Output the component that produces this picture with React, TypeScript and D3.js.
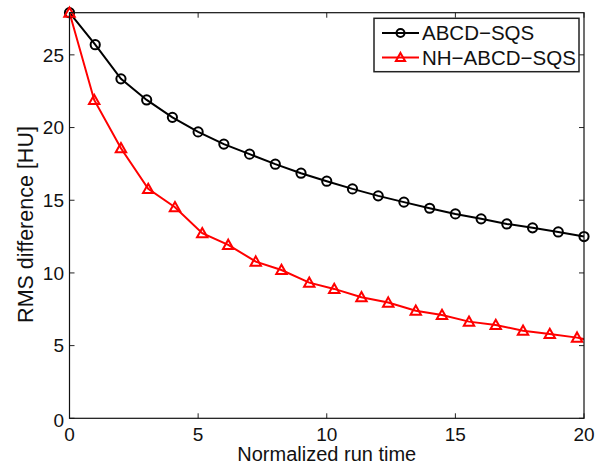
import React from 'react';
import * as d3 from 'd3';

// series
const abcdX = [0, 1, 2, 3, 4, 5, 6, 7, 8, 9, 10, 11, 12, 13, 14, 15, 16, 17, 18, 19, 20];
const abcdY = [27.9, 25.7, 23.35, 21.9, 20.7, 19.7, 18.86, 18.17, 17.48, 16.86, 16.31, 15.78, 15.3, 14.87, 14.45, 14.06, 13.72, 13.37, 13.1, 12.82, 12.5];
const nhX = [0, 0.96, 2.0, 3.06, 4.1, 5.16, 6.17, 7.24, 8.24, 9.32, 10.29, 11.35, 12.39, 13.46, 14.48, 15.53, 16.57, 17.63, 18.67, 19.73, 20.77];
const nhY = [27.9, 21.9, 18.58, 15.78, 14.52, 12.73, 11.93, 10.78, 10.2, 9.33, 8.9, 8.33, 7.96, 7.4, 7.11, 6.65, 6.42, 6.03, 5.8, 5.55, 5.15];
const xTicks = [0, 5, 10, 15, 20];
const yTicks = [0, 5, 10, 15, 20, 25];
const seriesNames = ['ABCD\u2212SQS', 'NH\u2212ABCD\u2212SQS'];

const W = 611, H = 466;
const left = 69.5, right = 584, top = 12.7, bottom = 418.3;
const font = '"Liberation Sans", Arial, Helvetica, sans-serif';

const tri = (cx: number, cy: number, s = 5.2) =>
  `M${cx},${cy - s}L${cx + s},${cy + s * 0.78}L${cx - s},${cy + s * 0.78}Z`;

export default function App() {
  const x = d3.scaleLinear().domain([0, 20]).range([left, right]);
  const y = d3.scaleLinear().domain([0, 27.9]).range([bottom, top]);

  const line = d3.line<[number, number]>().x(d => x(d[0])).y(d => y(d[1]));
  const black = abcdX.map((v, i) => [v, abcdY[i]] as [number, number]);
  const red = nhX.map((v, i) => [v, nhY[i]] as [number, number]);
  const redMarks = red.filter(d => d[0] <= 20);

  const tl = 5;

  return (
    <svg width={W} height={H} style={{ position: 'absolute', left: 0, top: 0, background: '#fff' }}
      fontFamily={font}>
      <defs>
        <clipPath id="plotClip">
          <rect x={left} y={top} width={right - left} height={bottom - top} />
        </clipPath>
      </defs>
      <rect x={0} y={0} width={W} height={H} fill="#fff" />

      {/* ticks, inward and mirrored */}
      {xTicks.map(t => (
        <g key={'x' + t}>
          <line x1={x(t)} x2={x(t)} y1={bottom} y2={bottom - tl} stroke="#222" />
          <line x1={x(t)} x2={x(t)} y1={top} y2={top + tl} stroke="#222" />
          <text x={x(t)} y={441} textAnchor="middle" fontSize={19} fill="#111">{t}</text>
        </g>
      ))}
      {yTicks.map(t => (
        <g key={'y' + t}>
          <line x1={left} x2={left + tl} y1={y(t)} y2={y(t)} stroke="#222" />
          <line x1={right} x2={right - tl} y1={y(t)} y2={y(t)} stroke="#222" />
          <text x={64} y={y(t) + (t === 0 ? 2 : 0)} dy="0.35em" textAnchor="end" fontSize={19} fill="#111">{t}</text>
        </g>
      ))}

      {/* data */}
      <path d={line(black) || ''} fill="none" stroke="#000" strokeWidth={2} />
      <g clipPath="url(#plotClip)">
        <path d={line(red) || ''} fill="none" stroke="#f00" strokeWidth={2} />
      </g>
      {black.map((d, i) => (
        <circle key={'c' + i} cx={x(d[0])} cy={y(d[1])} r={4.6} fill="none" stroke="#000" strokeWidth={2} />
      ))}
      {redMarks.map((d, i) => (
        <path key={'t' + i} d={tri(x(d[0]), y(d[1]))} fill="none" stroke="#f00" strokeWidth={2} strokeLinejoin="miter" />
      ))}

      {/* axes box */}
      <rect x={left} y={top} width={right - left} height={bottom - top} fill="none" stroke="#111" strokeWidth={1.2} />

      {/* labels */}
      <text x={(left + right) / 2} y={461} textAnchor="middle" fontSize={20} fill="#111">Normalized run time</text>
      <text transform={`translate(33,${(top + bottom) / 2 + 9}) rotate(-90)`} textAnchor="middle" fontSize={21.5} fill="#111">
        RMS difference [HU]
      </text>

      {/* legend */}
      <rect x={374} y={18.3} width={205} height={53.4} fill="#fff" stroke="#222" strokeWidth={1.5} />
      <line x1={382} x2={419} y1={33} y2={33} stroke="#000" strokeWidth={2} />
      <circle cx={400.5} cy={33} r={4} fill="none" stroke="#000" strokeWidth={2} />
      <text x={422} y={33} dy="0.35em" fontSize={20.5} fill="#111">{seriesNames[0]}</text>
      <line x1={382} x2={419} y1={57.5} y2={57.5} stroke="#f00" strokeWidth={2} />
      <path d={tri(400.5, 57.5, 4.6)} fill="none" stroke="#f00" strokeWidth={2} />
      <text x={422} y={57.5} dy="0.35em" fontSize={20.5} fill="#111">{seriesNames[1]}</text>
    </svg>
  );
}
